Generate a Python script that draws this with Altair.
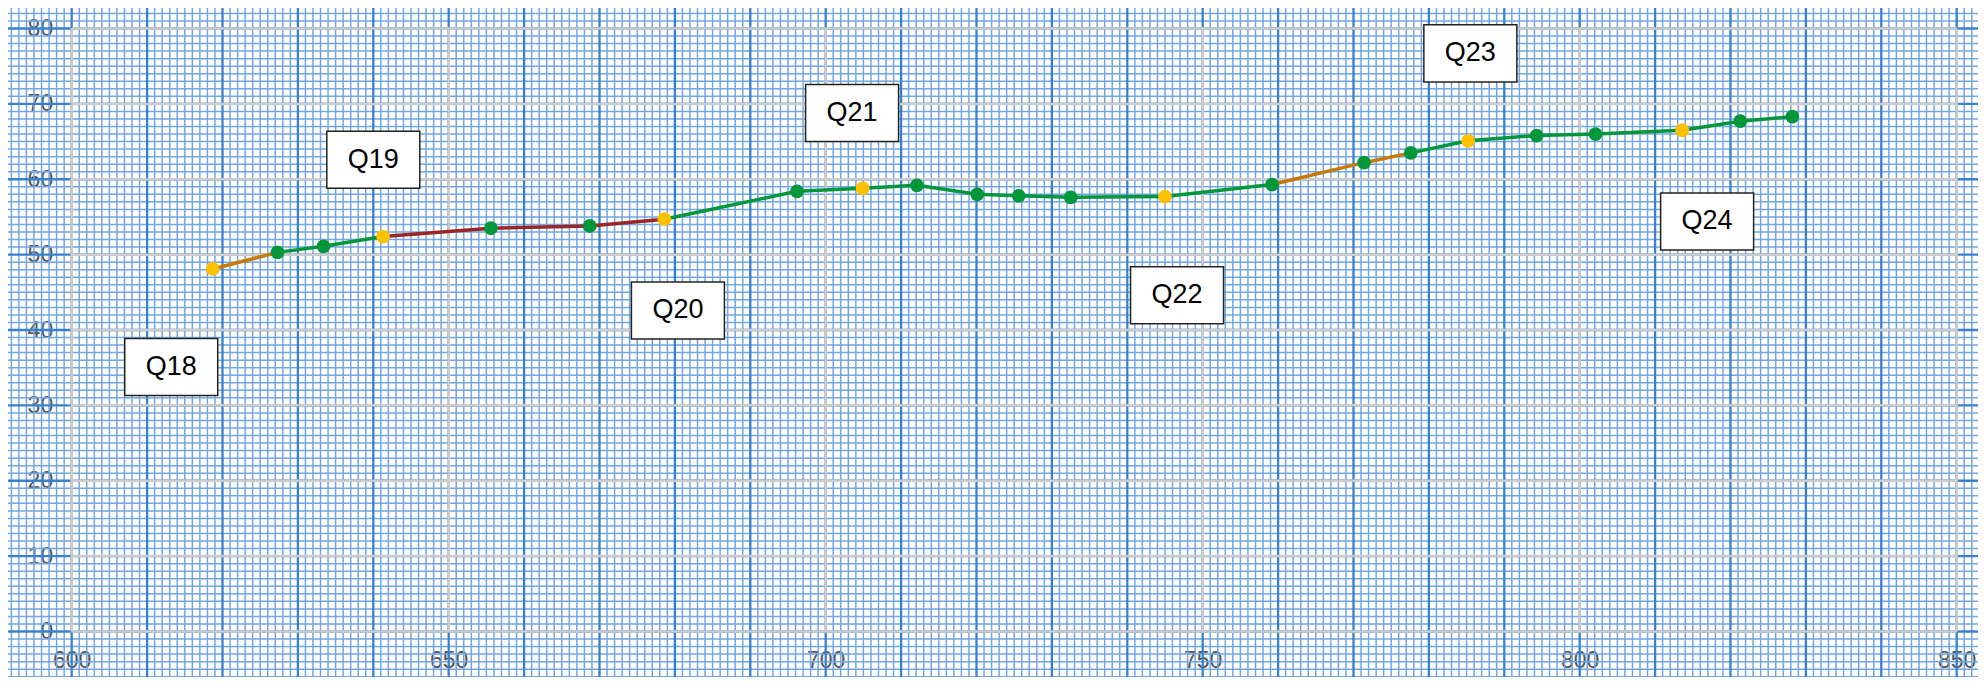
import altair as alt
import pandas as pd
import numpy as np

# ---- data ----
x_vals = [618.7, 627.3, 633.4, 641.3, 655.6, 668.7, 678.6, 696.2, 704.9, 712.1, 720.1, 725.6,
          732.5, 745.0, 759.2, 771.4, 777.6, 785.2, 794.3, 802.1, 813.6, 821.3, 828.2]
y_vals = [48.1, 50.3, 51.1, 52.4, 53.5, 53.8, 54.7, 58.4, 58.8, 59.2, 58.0, 57.8,
          57.6, 57.7, 59.3, 62.2, 63.5, 65.1, 65.8, 66.0, 66.5, 67.7, 68.3]
point_kind = ["key", "reg", "reg", "key", "reg", "reg", "key", "reg", "key", "reg", "reg", "reg",
              "reg", "key", "reg", "reg", "reg", "key", "reg", "reg", "key", "reg", "reg"]
segment_kind = (["trans"] + ["norm"] * 2 + ["peak"] * 3 + ["norm"] * 8 +
                ["trans"] * 2 + ["norm"] * 6)

label_text = ["Q18", "Q19", "Q20", "Q21", "Q22", "Q23", "Q24"]
label_x = [613.2, 640.0, 680.4, 703.5, 746.6, 785.5, 816.9]
label_y = [35.1, 62.6, 42.6, 68.8, 44.6, 76.7, 54.4]

x_ticks = [600, 650, 700, 750, 800, 850]
y_ticks = [0, 10, 20, 30, 40, 50, 60, 70, 80]

# graph-paper background lines (one per unit)
paper_x = list(range(591, 854))
paper_y = list(range(-7, 84))

# ---- tables ----
pts = pd.DataFrame({"x": x_vals, "y": y_vals, "kind": point_kind})
seg_rows = []
for i, k in enumerate(segment_kind):
    seg_rows.append({"seg": i, "x": x_vals[i], "y": y_vals[i], "kind": k, "ord": 0})
    seg_rows.append({"seg": i, "x": x_vals[i + 1], "y": y_vals[i + 1], "kind": k, "ord": 1})
segs = pd.DataFrame(seg_rows)
labels = pd.DataFrame({"x": label_x, "y": label_y, "text": label_text})

vx = pd.DataFrame({"v": paper_x, "major": [v % 10 == 0 for v in paper_x],
                   "lo": min(paper_y), "hi": max(paper_y)})
hy = pd.DataFrame({"v": paper_y, "major": [v % 10 == 0 for v in paper_y],
                   "lo": min(paper_x), "hi": max(paper_x)})
gx = pd.DataFrame({"v": x_ticks, "lo": y_ticks[0], "hi": y_ticks[-1]})
gy = pd.DataFrame({"v": y_ticks, "lo": x_ticks[0], "hi": x_ticks[-1]})

xs = alt.Scale(domain=[600, 850], nice=False, zero=False)
ys = alt.Scale(domain=[0, 80], nice=False, zero=False)
FONT = "Liberation Sans"

xaxis = alt.Axis(values=x_ticks, grid=False, domain=False, ticks=False, tickSize=0,
                 labelFont=FONT, labelFontSize=23, labelColor="#555555", labelPadding=18,
                 title=None, labelFlush=False)
yaxis = alt.Axis(values=y_ticks, grid=False, domain=False, ticks=False, tickSize=0,
                 labelFont=FONT, labelFontSize=23, labelColor="#555555", labelPadding=19,
                 title=None, labelFlush=False)

MINOR = "#72a6e2"
MAJOR = "#3a80d0"

# graph paper
paper_v_minor = alt.Chart(vx).transform_filter("!datum.major").mark_rule(
    color=MINOR, strokeWidth=1.5).encode(
    x=alt.X("v:Q", scale=xs, axis=xaxis), y=alt.Y("lo:Q", scale=ys, axis=yaxis), y2="hi:Q")
paper_h_minor = alt.Chart(hy).transform_filter("!datum.major").mark_rule(
    color=MINOR, strokeWidth=1.5).encode(
    y=alt.Y("v:Q", scale=ys), x=alt.X("lo:Q", scale=xs), x2="hi:Q")
paper_v_major = alt.Chart(vx).transform_filter("datum.major").mark_rule(
    color=MAJOR, strokeWidth=2.3).encode(
    x=alt.X("v:Q", scale=xs), y=alt.Y("lo:Q", scale=ys), y2="hi:Q")
paper_h_major = alt.Chart(hy).transform_filter("datum.major").mark_rule(
    color=MAJOR, strokeWidth=2.3).encode(
    y=alt.Y("v:Q", scale=ys), x=alt.X("lo:Q", scale=xs), x2="hi:Q")

# chart grid
grid_v = alt.Chart(gx).mark_rule(color="#cccccc", strokeWidth=2.5).encode(
    x=alt.X("v:Q", scale=xs), y=alt.Y("lo:Q", scale=ys), y2="hi:Q")
grid_h = alt.Chart(gy).mark_rule(color="#cccccc", strokeWidth=2.5).encode(
    y=alt.Y("v:Q", scale=ys), x=alt.X("lo:Q", scale=xs), x2="hi:Q")

lines = alt.Chart(segs).mark_line(strokeCap="round").encode(
    x=alt.X("x:Q", scale=xs), y=alt.Y("y:Q", scale=ys),
    detail="seg:N", order="ord:Q",
    color=alt.Color("kind:N", scale=alt.Scale(domain=["norm", "trans", "peak"],
                                              range=["#03963a", "#c67a06", "#9b2626"]),
                    legend=None),
    strokeWidth=alt.StrokeWidth("kind:N", scale=alt.Scale(domain=["norm", "trans", "peak"],
                                                          range=[3.5, 3.5, 6]), legend=None))

points = alt.Chart(pts).mark_circle(size=190, opacity=1).encode(
    x=alt.X("x:Q", scale=xs), y=alt.Y("y:Q", scale=ys),
    fill=alt.Fill("kind:N", scale=alt.Scale(domain=["reg", "key"], range=["#03963a", "#ffc000"]),
                  legend=None))

boxes = alt.Chart(labels).mark_point(
    shape="M-1,-0.613H1V0.613H-1Z", size=8649, filled=True, fill="white",
    stroke="#222222", strokeWidth=1.5, opacity=1).encode(
    x=alt.X("x:Q", scale=xs), y=alt.Y("y:Q", scale=ys))
texts = alt.Chart(labels).mark_text(font=FONT, fontSize=27, color="black",
                                    align="center", baseline="middle").encode(
    x=alt.X("x:Q", scale=xs), y=alt.Y("y:Q", scale=ys), text="text:N")

chart = alt.layer(paper_v_minor, paper_h_minor, paper_v_major, paper_h_major,
                  grid_v, grid_h, lines, points, boxes, texts).properties(
    width=1885, height=603,
    autosize=alt.AutoSizeParams(type="none"),
    padding={"left": 63.7, "top": 20.5, "right": 21, "bottom": 45},
    background="white",
).configure_view(stroke=None)

chart.save("out.html", embed_options={"renderer": "svg", "actions": False})
